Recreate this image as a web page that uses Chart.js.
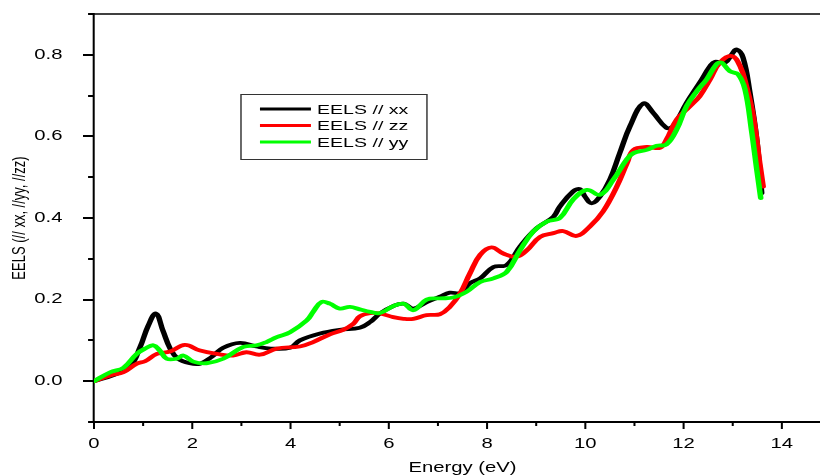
<!DOCTYPE html>
<html>
<head>
<meta charset="utf-8">
<script src="https://cdn.jsdelivr.net/npm/chart.js@4/dist/chart.umd.min.js"></script>
<style>
  html, body { margin: 0; padding: 0; background: #fff; overflow: hidden; width: 820px; height: 475px; }
  #wrap { position: absolute; left: 0; top: 0; width: 840px; height: 475px; overflow: hidden; }
  canvas { display: block; }
</style>
</head>
<body>
<div id="wrap"><canvas id="c" width="580" height="475"></canvas></div>
<script>
// EELS spectra along the three crystal directions
const xxEnergy = [0, 0.4, 0.73, 0.94, 1.1, 1.26, 1.4, 1.55, 1.7, 1.95, 2.16, 2.4, 2.63, 2.97, 3.31, 3.6, 3.99, 4.19, 4.6, 5.0, 5.41, 5.62, 5.82, 6.09, 6.3, 6.5, 6.77, 7.04, 7.24, 7.45, 7.65, 7.86, 8.13, 8.4, 8.67, 9.01, 9.35, 9.48, 9.75, 9.89, 9.99, 10.13, 10.3, 10.5, 10.7, 10.91, 11.18, 11.38, 11.65, 11.79, 12.06, 12.33, 12.54, 12.64, 12.84, 12.98, 13.08, 13.21, 13.35, 13.49, 13.59];
const xxValues = [0, 0.015, 0.035, 0.084, 0.135, 0.166, 0.125, 0.08, 0.056, 0.044, 0.043, 0.06, 0.082, 0.094, 0.085, 0.08, 0.082, 0.1, 0.117, 0.126, 0.131, 0.145, 0.166, 0.184, 0.19, 0.178, 0.194, 0.207, 0.217, 0.216, 0.24, 0.252, 0.28, 0.285, 0.33, 0.375, 0.403, 0.428, 0.465, 0.471, 0.453, 0.436, 0.453, 0.494, 0.559, 0.625, 0.681, 0.658, 0.621, 0.625, 0.682, 0.732, 0.772, 0.783, 0.78, 0.801, 0.813, 0.793, 0.707, 0.592, 0.461];

const zzEnergy = [0, 0.33, 0.6, 0.87, 1.04, 1.28, 1.55, 1.85, 2.16, 2.5, 2.83, 3.1, 3.38, 3.72, 4.19, 4.46, 4.8, 5.07, 5.28, 5.41, 5.62, 5.82, 6.09, 6.3, 6.5, 6.77, 7.04, 7.24, 7.45, 7.65, 7.86, 8.09, 8.33, 8.6, 8.81, 9.08, 9.35, 9.55, 9.82, 10.09, 10.36, 10.64, 10.85, 10.98, 11.25, 11.52, 11.65, 11.86, 12.13, 12.33, 12.54, 12.74, 12.98, 13.15, 13.28, 13.42, 13.55, 13.62];
const zzValues = [0, 0.014, 0.022, 0.043, 0.049, 0.067, 0.073, 0.089, 0.075, 0.067, 0.063, 0.071, 0.065, 0.08, 0.085, 0.096, 0.115, 0.126, 0.141, 0.159, 0.167, 0.166, 0.157, 0.153, 0.153, 0.162, 0.164, 0.182, 0.215, 0.264, 0.31, 0.328, 0.313, 0.305, 0.321, 0.354, 0.363, 0.368, 0.356, 0.379, 0.416, 0.477, 0.535, 0.567, 0.574, 0.572, 0.592, 0.641, 0.674, 0.699, 0.74, 0.781, 0.797, 0.772, 0.723, 0.649, 0.535, 0.477];

const yyEnergy = [0, 0.33, 0.6, 0.87, 1.04, 1.21, 1.34, 1.48, 1.68, 1.82, 2.02, 2.29, 2.63, 3.04, 3.31, 3.51, 3.72, 3.99, 4.33, 4.46, 4.63, 4.8, 5.0, 5.21, 5.41, 5.62, 5.82, 6.09, 6.3, 6.5, 6.77, 7.04, 7.31, 7.58, 7.86, 8.13, 8.4, 8.67, 8.94, 9.21, 9.48, 9.75, 10.03, 10.3, 10.57, 10.84, 10.98, 11.25, 11.45, 11.65, 11.86, 12.06, 12.27, 12.47, 12.67, 12.77, 12.94, 13.11, 13.25, 13.38, 13.49, 13.57];
const yyValues = [0, 0.022, 0.033, 0.067, 0.08, 0.088, 0.075, 0.055, 0.055, 0.063, 0.048, 0.044, 0.055, 0.084, 0.088, 0.096, 0.108, 0.12, 0.149, 0.17, 0.194, 0.19, 0.178, 0.182, 0.176, 0.17, 0.167, 0.184, 0.19, 0.174, 0.2, 0.203, 0.205, 0.219, 0.243, 0.252, 0.268, 0.321, 0.367, 0.391, 0.4, 0.445, 0.469, 0.457, 0.494, 0.543, 0.559, 0.567, 0.577, 0.58, 0.617, 0.674, 0.711, 0.74, 0.777, 0.781, 0.76, 0.752, 0.715, 0.617, 0.518, 0.449];

const seriesLabels = ['EELS // xx', 'EELS // zz', 'EELS // yy'];
const seriesColors = ['#000000', '#ff0000', '#00ff00'];

const xLabelTicks = [0, 2, 4, 6, 8, 10, 12, 14];
const yLabelTicks = [0, 0.2, 0.4, 0.6, 0.8];

const pairs = (xs, ys) => xs.map((e, i) => ({ x: e, y: ys[i] }));

// The figure is laid out on a 580px-wide canvas and drawn stretched
// horizontally to 840 device pixels (wide-aspect export look).
const LOGICAL_W = 580;
const OUT_W = 840;
const SX = OUT_W / LOGICAL_W;

Chart.defaults.font.family = '"Liberation Sans", Arial, sans-serif';
Chart.defaults.color = '#000';

const stretch = {
  id: 'stretch',
  beforeDraw(chart) { chart.ctx.setTransform(SX, 0, 0, 1, 0, 0); }
};

// Outward tick marks (major + minor) and the upper frame line
const tickMarks = {
  id: 'tickMarks',
  afterDraw(chart) {
    const { ctx, chartArea: a, scales: { x, y } } = chart;
    ctx.save();
    ctx.strokeStyle = '#000';
    ctx.lineWidth = 1.5;
    ctx.beginPath();
    ctx.moveTo(a.left, a.top);
    ctx.lineTo(LOGICAL_W, a.top);
    ctx.stroke();
    ctx.lineWidth = 2;
    for (let i = -1; i <= 9; i++) {
      const py = Math.round(y.getPixelForValue(i / 10));
      const major = i >= 0 && i <= 8 && i % 2 === 0;
      ctx.beginPath();
      ctx.moveTo(a.left, py);
      ctx.lineTo(a.left - (major ? 7.6 : 4.1), py);
      ctx.stroke();
    }
    ctx.lineWidth = 1.4;
    for (let e = 0; e <= 15; e++) {
      const px = x.getPixelForValue(e);
      const major = e % 2 === 0;
      ctx.beginPath();
      ctx.moveTo(px, a.bottom);
      ctx.lineTo(px, a.bottom + (major ? 7 : 4));
      ctx.stroke();
    }
    ctx.restore();
  }
};

// Boxed legend inside the plot
const boxLegend = {
  id: 'boxLegend',
  afterDraw(chart) {
    const { ctx } = chart;
    ctx.save();
    ctx.strokeStyle = '#333';
    ctx.lineWidth = 1;
    ctx.strokeRect(166.4, 94.5, 128.4, 65);
    ctx.font = '13.5px "Liberation Sans", Arial, sans-serif';
    ctx.textBaseline = 'middle';
    ctx.textAlign = 'left';
    seriesLabels.forEach((lab, i) => {
      const yy = 109 + i * 16.5;
      ctx.strokeStyle = seriesColors[i];
      ctx.lineWidth = 3;
      ctx.beginPath();
      ctx.moveTo(179.5, yy);
      ctx.lineTo(214.7, yy);
      ctx.stroke();
      ctx.fillStyle = '#000';
      ctx.fillText(lab, 218.9, yy + 1);
    });
    ctx.restore();
  }
};

const canvas = document.getElementById('c');
const chart = new Chart(canvas, {
  type: 'line',
  data: {
    datasets: [
      { label: seriesLabels[0], data: pairs(xxEnergy, xxValues), borderColor: seriesColors[0], order: 2 },
      { label: seriesLabels[1], data: pairs(zzEnergy, zzValues), borderColor: seriesColors[1], order: 1 },
      { label: seriesLabels[2], data: pairs(yyEnergy, yyValues), borderColor: seriesColors[2], order: 0 }
    ]
  },
  options: {
    responsive: false,
    animation: false,
    events: [],
    devicePixelRatio: 1,
    layout: { padding: { top: 14, right: LOGICAL_W - 831 / SX, left: 0, bottom: 0 } },
    elements: {
      line: { borderWidth: 3.8, tension: 0.4, fill: false, borderCapStyle: 'round', borderJoinStyle: 'round' },
      point: { radius: 0 }
    },
    plugins: { legend: { display: false }, tooltip: { enabled: false } },
    scales: {
      x: {
        type: 'linear',
        min: 0,
        max: 15,
        grid: { display: false },
        border: { display: true, color: '#000', width: 2 },
        ticks: { font: { size: 14 }, padding: 6, color: '#000', maxRotation: 0 },
        afterBuildTicks: s => { s.ticks = xLabelTicks.map(v => ({ value: v })); },
        afterFit: s => { s.height = 53; s.paddingLeft = 0; s.paddingRight = 0; },
        title: { display: true, text: 'Energy (eV)', font: { size: 14, lineHeight: 1 }, padding: { top: 0, bottom: 0 }, color: '#000' }
      },
      y: {
        type: 'linear',
        min: -0.1,
        max: 0.9,
        grid: { display: false },
        border: { display: true, color: '#000', width: 1.4 },
        ticks: { font: { size: 14 }, padding: 13.8, color: '#000', callback: v => Number(v).toFixed(1) },
        afterBuildTicks: s => { s.ticks = yLabelTicks.map(v => ({ value: v })); },
        afterFit: s => { s.width = 94 / SX; s.paddingTop = 0; s.paddingBottom = 0; },
        title: { display: true, text: 'EELS (// xx, //yy, //zz)', font: { size: 13 }, padding: { top: 5.7, bottom: 0 }, color: '#000' }
      }
    }
  },
  plugins: [stretch, tickMarks, boxLegend]
});

// widen the backing store to the output width and repaint stretched
canvas.width = OUT_W;
canvas.style.width = OUT_W + 'px';
canvas.style.height = '475px';
chart.draw();
</script>
</body>
</html>
